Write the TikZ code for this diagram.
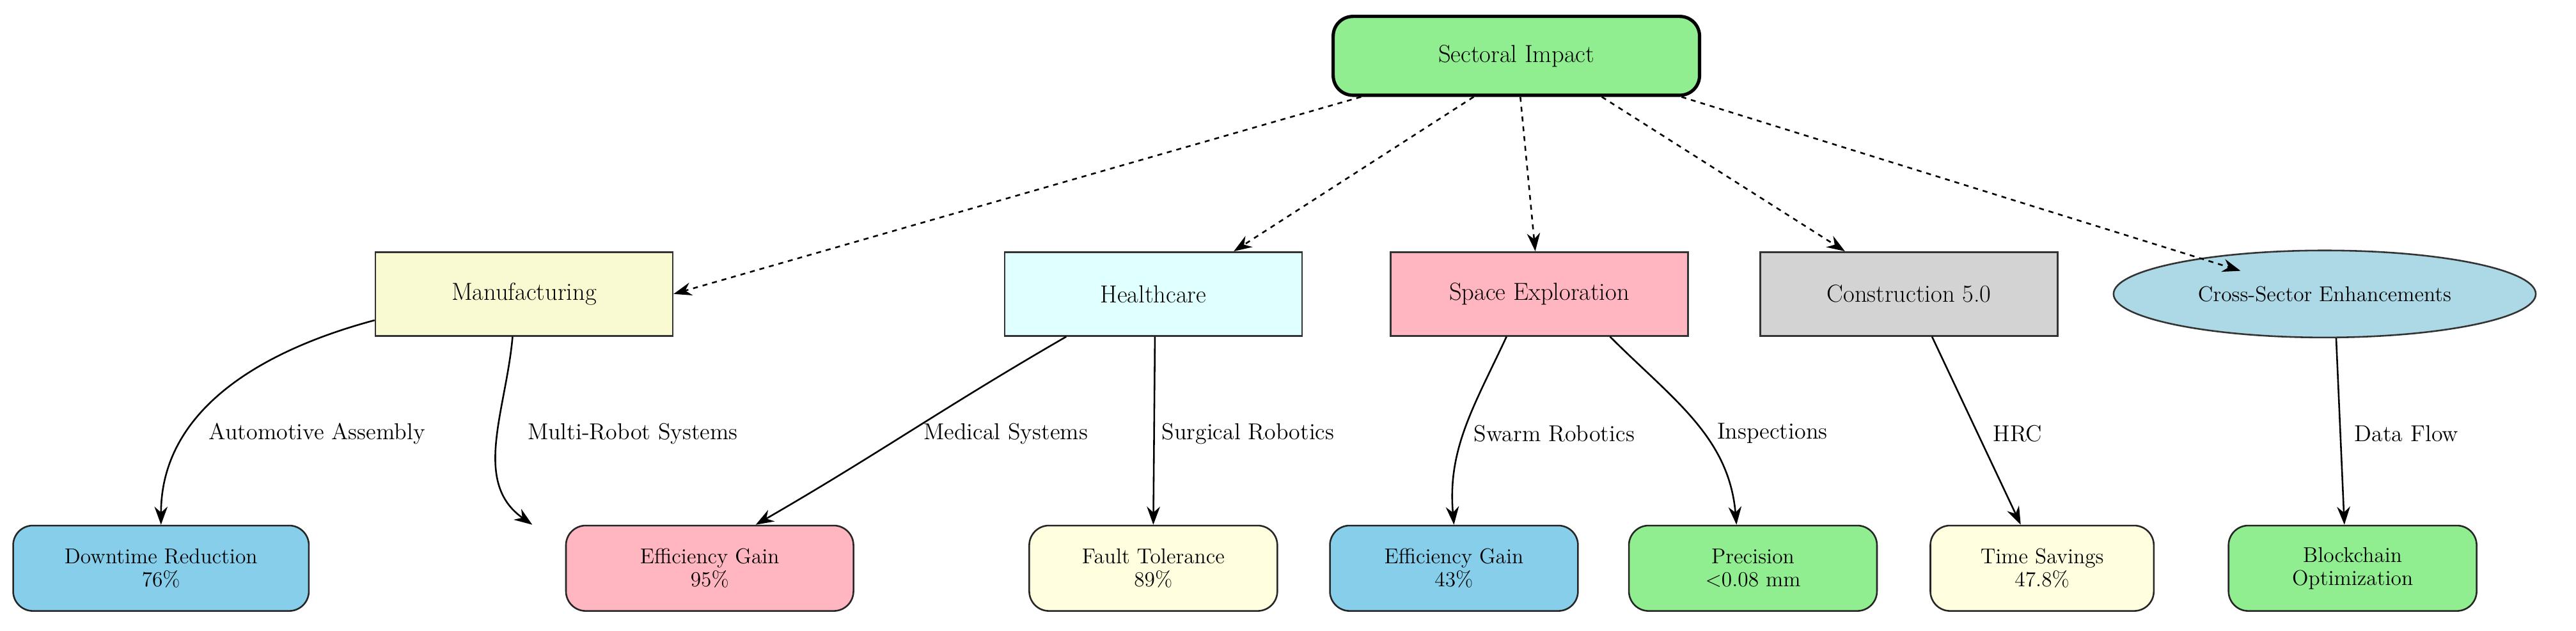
\documentclass[tikz,border=0pt]{standalone}
\usetikzlibrary{arrows.meta,shapes.geometric}
\definecolor{cgreen}{HTML}{90EE90}
\definecolor{cgold}{HTML}{FAFAD2}
\definecolor{ccyan}{HTML}{E0FFFF}
\definecolor{cpink}{HTML}{FFB6C1}
\definecolor{cgray}{HTML}{D3D3D3}
\definecolor{cblue}{HTML}{ADD8E6}
\definecolor{csky}{HTML}{87CEEB}
\definecolor{cyel}{HTML}{FFFFE0}
\begin{document}
\begin{tikzpicture}[x=1pt,y=-1pt,
 top/.style={draw=black!80,line width=1pt,minimum width=181pt,minimum height=51pt,font=\fontsize{15}{17}\selectfont},
 bot/.style={draw=black!85,line width=1pt,rounded corners=12pt,minimum height=52pt,align=center,font=\fontsize{13}{14}\selectfont},
 dsh/.style={-{Stealth[length=11pt,width=8pt]},dashed,line width=1pt},
 sol/.style={-{Stealth[length=11pt,width=8pt]},line width=1pt},
 lab/.style={font=\fontsize{14}{16}\selectfont,anchor=west,inner sep=1pt}]
\useasboundingbox (0,0) rectangle (1568,384.2);
\node[draw,line width=2pt,rounded corners=12pt,fill=cgreen,minimum width=223pt,minimum height=48pt,font=\fontsize{15}{17}\selectfont] (si) at (923,34) {Sectoral Impact};
\node[top,fill=cgold] (ma) at (319,179) {Manufacturing};
\node[top,fill=ccyan] (he) at (702,179) {Healthcare};
\node[top,fill=cpink] (sp) at (937,179) {Space Exploration};
\node[top,fill=cgray] (co) at (1162,179) {Construction 5.0};
\node[draw=black!80,line width=1pt,ellipse,fill=cblue,minimum width=257pt,minimum height=53pt,inner sep=0pt,font=\fontsize{13}{15}\selectfont] (cs) at (1415,179) {Cross-Sector Enhancements};
\node[bot,fill=csky,minimum width=180pt] (dt) at (98,346) {Downtime Reduction\\76\%};
\node[bot,fill=cpink,minimum width=175pt] (e95) at (432,346) {Efficiency Gain\\95\%};
\node[bot,fill=cyel,minimum width=151pt] (ft) at (702,346) {Fault Tolerance\\89\%};
\node[bot,fill=csky,minimum width=151pt] (e43) at (885,346) {Efficiency Gain\\43\%};
\node[bot,fill=cgreen,minimum width=151pt] (pr) at (1067,346) {Precision\\<0.08 mm};
\node[bot,fill=cyel,minimum width=136pt] (ts) at (1243,346) {Time Savings\\47.8\%};
\node[bot,fill=cgreen,minimum width=151pt] (bc) at (1432,346) {Blockchain\\Optimization};
\draw[dsh] ([xshift=18pt]si.south west) -- (ma.east);
\draw[dsh] ([xshift=-26pt]si.south) -- ([xshift=-42pt]he.north east);
\draw[dsh] (si) -- (sp);
\draw[dsh] ([xshift=52pt]si.south) -- ([xshift=52pt]co.north west);
\draw[dsh] ([xshift=-12pt]si.south east) -- ([xshift=40pt,yshift=-5pt]cs.north west);
\draw[sol] ([yshift=10pt]ma.south west) to[out=195,in=90] (dt.north);
\draw[sol] ([xshift=-7pt]ma.south) to[out=-95,in=145] ([xshift=-20pt]e95.north west);
\draw[sol] ([xshift=38pt]he.south west) to[out=-150,in=30] ([xshift=-60pt]e95.north east);
\draw[sol] ([xshift=1pt]he.south) -- (ft.north);
\draw[sol] ([xshift=-20pt]sp.south) to[out=-115,in=95] (e43.north);
\draw[sol] ([xshift=43pt]sp.south) to[out=-45,in=95] ([xshift=-10pt]pr.north);
\draw[sol] ([xshift=14pt]co.south) -- ([xshift=-13pt]ts.north);
\draw[sol] ([xshift=7pt]cs.south) -- ([xshift=-5pt]bc.north);
\node[lab] at (126,264) {Automotive Assembly};
\node[lab] at (320,264) {Multi-Robot Systems};
\node[lab] at (561,264) {Medical Systems};
\node[lab] at (706,264) {Surgical Robotics};
\node[lab] at (896,264) {Swarm Robotics};
\node[lab] at (1044,264) {Inspections};
\node[lab] at (1212,264) {HRC};
\node[lab] at (1432,264) {Data Flow};
\end{tikzpicture}
\end{document}
